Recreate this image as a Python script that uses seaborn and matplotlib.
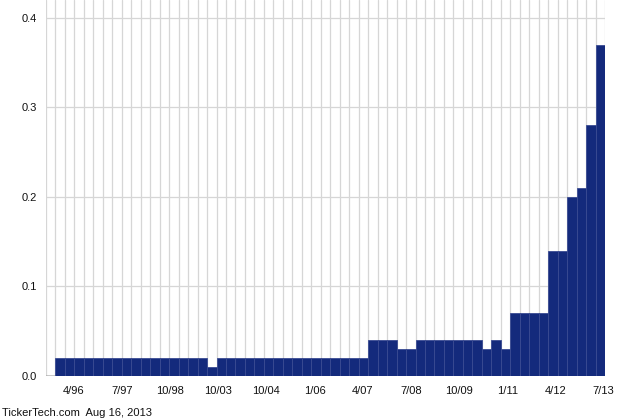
import numpy as np
import pandas as pd
import matplotlib
matplotlib.use("Agg")
import matplotlib.pyplot as plt
import seaborn as sns


# quarterly dividend per share, oldest first
dividends = [
    0.02, 0.02, 0.02, 0.02, 0.02, 0.02, 0.02, 0.02,
    0.02, 0.02, 0.02, 0.02, 0.02, 0.02, 0.02, 0.02,
    0.01,
    0.02, 0.02, 0.02, 0.02, 0.02, 0.02, 0.02, 0.02,
    0.02, 0.02, 0.02, 0.02, 0.02, 0.02, 0.02, 0.02,
    0.04, 0.04, 0.04,
    0.03, 0.03,
    0.04, 0.04, 0.04, 0.04, 0.04, 0.04, 0.04,
    0.03, 0.04, 0.03,
    0.07, 0.07, 0.07, 0.07,
    0.14, 0.14,
    0.20, 0.21, 0.28, 0.37,
]

tick_labels = [
    "4/96", "7/97", "10/98", "10/03", "10/04", "1/06",
    "4/07", "7/08", "10/09", "1/11", "4/12", "7/13",
]

y_ticks = [0.0, 0.1, 0.2, 0.3, 0.4]

footer = "TickerTech.com  Aug 16, 2013"


df = pd.DataFrame(
    {
        "bar": np.arange(len(dividends)),
        "dividend": dividends,
    }
)

sns.set_style("white")
plt.rcParams["font.family"] = ["Liberation Sans", "DejaVu Sans"]

fig = plt.figure(
    figsize=(6.4, 4.2),
    dpi=100
)
ax = fig.add_axes([46 / 640, 44 / 420, 559 / 640, 376 / 420])

sns.barplot(
    data=df,
    x="bar",
    y="dividend",
    color="#142a7c",
    saturation=1,
    width=1.0,
    edgecolor="#3a4b92",
    linewidth=0.6,
    zorder=3,
    ax=ax
)

n = len(dividends)
ax.set_xlim(-1.5, n - 0.5)
ax.set_ylim(0, 0.42)

# a gridline at every bar edge
ax.set_xticks(np.arange(-1.5, n, 1.0), minor=True)
ax.set_xticks(np.linspace(1.43, n - 0.64, len(tick_labels)))
ax.set_xticklabels(tick_labels)
ax.set_yticks(y_ticks)
ax.set_yticklabels([f"{v:.1f}" for v in y_ticks])

ax.grid(which="minor", axis="x", color="#d6d6d6", linewidth=0.9)
ax.grid(which="major", axis="x", visible=False)
ax.grid(which="major", axis="y", color="#d6d6d6", linewidth=0.9)
ax.set_axisbelow(True)

ax.axhline(0, color="black", linewidth=1.0, zorder=2)

for spine in ax.spines.values():
    spine.set_visible(False)

ax.tick_params(axis="x", which="both", length=0, pad=7, labelsize=8, labelcolor="#111111")
ax.tick_params(axis="y", which="both", length=0, pad=6.5, labelsize=8, labelcolor="#111111")
ax.set_xlabel("")
ax.set_ylabel("")

fig.text(
    2 / 640,
    1 - 413 / 420,
    footer,
    fontsize=8,
    color="#111111",
    va="center",
    ha="left"
)

fig.savefig("out.png", dpi=100)
